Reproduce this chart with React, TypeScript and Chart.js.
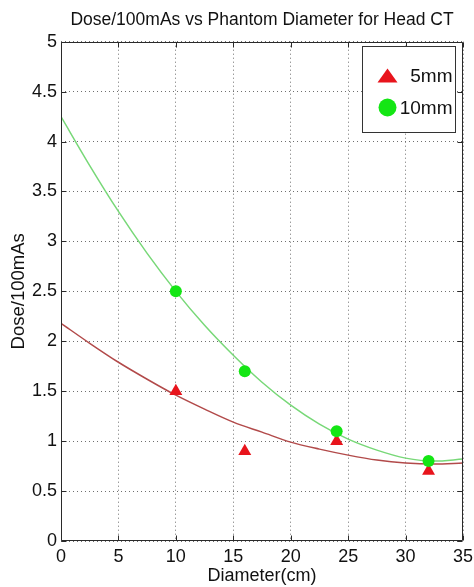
import React, { useEffect, useRef } from "react";
import { Chart, registerables } from "chart.js";

Chart.register(...registerables);

const chartTitle = "Dose/100mAs vs Phantom Diameter for Head CT";
const xAxisTitle = "Diameter(cm)";
const yAxisTitle = "Dose/100mAs";
const legendLabels = ["5mm", "10mm"];

// measured points
const diameters = [10, 16, 24, 32];
const dose5mm = [1.5, 0.9, 1.0, 0.7];
const dose10mm = [2.5, 1.7, 1.1, 0.8];

// fitted curves
const fitX = [0, 2.5, 5, 7.5, 10, 12.5, 15, 17.5, 20, 22.5, 25, 27.5, 30, 32.5, 35];
const fit5mm = [2.18, 1.98, 1.79, 1.62, 1.46, 1.32, 1.19, 1.09, 0.99, 0.92, 0.86, 0.81, 0.78, 0.77, 0.78];
const fit10mm = [4.25, 3.76, 3.3, 2.88, 2.5, 2.16, 1.86, 1.59, 1.36, 1.17, 1.02, 0.91, 0.83, 0.8, 0.82];

const xTicks = [0, 5, 10, 15, 20, 25, 30, 35];
const yTicks = [0, 0.5, 1, 1.5, 2, 2.5, 3, 3.5, 4, 4.5, 5];
const xTickLabels = ["0", "5", "10", "15", "20", "25", "30", "35"];
const yTickLabels = ["0", "0.5", "1", "1.5", "2", "2.5", "3", "3.5", "4", "4.5", "5"];

const RED_MARK = "#e8141c";
const GREEN_MARK = "#14e614";
const RED_LINE = "#b24a4a";
const GREEN_LINE = "#78d878";
const FAMILY = "'Liberation Sans', Arial, Helvetica, sans-serif";

export default function App() {
  const ref = useRef<HTMLCanvasElement | null>(null);

  useEffect(() => {
    if (!ref.current) return;

    const framePlugin = {
      id: "frameLegend",
      afterDraw(chart: any) {
        const ctx = chart.ctx as CanvasRenderingContext2D;
        const { left, right, top, bottom } = chart.chartArea;
        const xs = chart.scales.x;
        const ys = chart.scales.y;
        ctx.save();
        ctx.strokeStyle = "#2a2a2a";
        ctx.lineWidth = 1;
        const L = Math.round(left) + 0.5;
        const R = Math.round(right) - 0.5;
        const T = Math.round(top) + 0.5;
        const B = Math.round(bottom) - 0.5;
        ctx.beginPath();
        ctx.rect(L, T, R - L, B - T);
        ctx.stroke();
        // inward tick marks
        ctx.beginPath();
        xTicks.forEach((v) => {
          const px = Math.round(xs.getPixelForValue(v)) + 0.5;
          ctx.moveTo(px, B);
          ctx.lineTo(px, B - 5);
          ctx.moveTo(px, T);
          ctx.lineTo(px, T + 5);
        });
        yTicks.forEach((v) => {
          const py = Math.round(ys.getPixelForValue(v)) + 0.5;
          ctx.moveTo(L, py);
          ctx.lineTo(L + 5, py);
          ctx.moveTo(R, py);
          ctx.lineTo(R - 5, py);
        });
        ctx.stroke();

        // legend box
        const bw = 93;
        const bh = 86;
        const bx = Math.round(right - 8 - bw) + 0.5;
        const by = Math.round(top + 4) + 0.5;
        ctx.fillStyle = "#fff";
        ctx.fillRect(bx, by, bw, bh);
        ctx.strokeStyle = "#333";
        ctx.strokeRect(bx, by, bw, bh);
        // triangle
        const cx = bx + 25;
        const ty = by + 29;
        ctx.fillStyle = RED_MARK;
        ctx.beginPath();
        ctx.moveTo(cx, ty - 7);
        ctx.lineTo(cx + 10, ty + 7);
        ctx.lineTo(cx - 10, ty + 7);
        ctx.closePath();
        ctx.fill();
        // circle
        const cy = by + 61;
        ctx.fillStyle = GREEN_MARK;
        ctx.beginPath();
        ctx.arc(cx, cy, 9, 0, Math.PI * 2);
        ctx.fill();
        // labels
        ctx.fillStyle = "#111";
        ctx.font = `19px ${FAMILY}`;
        ctx.textAlign = "right";
        ctx.textBaseline = "middle";
        ctx.fillText(legendLabels[0], bx + bw - 3, ty + 1);
        ctx.fillText(legendLabels[1], bx + bw - 3, cy + 1);
        ctx.restore();
      },
    };

    const chart = new Chart(ref.current, {
      type: "line",
      data: {
        datasets: [
          {
            label: legendLabels[1] + " points",
            data: diameters.map((x, i) => ({ x, y: dose10mm[i] })),
            showLine: false,
            pointStyle: "circle",
            pointRadius: 6,
            pointBackgroundColor: GREEN_MARK,
            pointBorderColor: GREEN_MARK,
            pointBorderWidth: 0,
            order: 0,
          },
          {
            label: legendLabels[0] + " points",
            data: diameters.map((x, i) => ({ x, y: dose5mm[i] })),
            showLine: false,
            pointStyle: "triangle",
            pointRadius: 7.5,
            pointBackgroundColor: RED_MARK,
            pointBorderColor: RED_MARK,
            pointBorderWidth: 0,
            order: 1,
          },
          {
            label: legendLabels[1] + " fit",
            data: fitX.map((x, i) => ({ x, y: fit10mm[i] })),
            borderColor: GREEN_LINE,
            borderWidth: 1.5,
            pointRadius: 0,
            cubicInterpolationMode: "monotone",
            fill: false,
            order: 2,
          },
          {
            label: legendLabels[0] + " fit",
            data: fitX.map((x, i) => ({ x, y: fit5mm[i] })),
            borderColor: RED_LINE,
            borderWidth: 1.5,
            pointRadius: 0,
            cubicInterpolationMode: "monotone",
            fill: false,
            order: 3,
          },
        ],
      },
      options: {
        responsive: false,
        animation: false,
        events: [],
        layout: { padding: { left: 0, right: 11, top: 0, bottom: 0 } },
        plugins: {
          legend: { display: false },
          tooltip: { enabled: false },
          title: {
            display: true,
            text: chartTitle,
            fullSize: false,
            color: "#111",
            font: { family: FAMILY, size: 17.5, weight: "normal", lineHeight: 1.2 },
            padding: { top: 10, bottom: 10.7 },
          },
        },
        scales: {
          x: {
            type: "linear",
            min: 0,
            max: 35,
            afterBuildTicks: (s: any) => {
              s.ticks = xTicks.map((v) => ({ value: v }));
            },
            afterFit: (s: any) => {
              s.height = 46;
              s.paddingLeft = 0;
              s.paddingRight = 0;
            },
            ticks: {
              autoSkip: false,
              maxRotation: 0,
              padding: 5,
              color: "#111",
              font: { family: FAMILY, size: 18, lineHeight: 1.2 },
              callback: (v: any) => xTickLabels[xTicks.indexOf(Number(v))] ?? String(v),
            },
            grid: { color: "#6f6f6f", lineWidth: 1, drawTicks: false },
            border: { display: false, dash: [1, 3] },
            title: {
              display: true,
              text: xAxisTitle,
              color: "#111",
              font: { family: FAMILY, size: 18, lineHeight: 1.2 },
              padding: { top: 0, bottom: 0 },
            },
          },
          y: {
            type: "linear",
            min: 0,
            max: 5,
            afterBuildTicks: (s: any) => {
              s.ticks = yTicks.map((v) => ({ value: v }));
            },
            afterFit: (s: any) => {
              s.width = 61;
              s.paddingTop = 0;
              s.paddingBottom = 0;
            },
            ticks: {
              autoSkip: false,
              padding: 4,
              color: "#111",
              font: { family: FAMILY, size: 18, lineHeight: 1.2 },
              callback: (v: any) => yTickLabels[yTicks.indexOf(Number(v))] ?? String(v),
            },
            grid: { color: "#6f6f6f", lineWidth: 1, drawTicks: false },
            border: { display: false, dash: [1, 3] },
            title: {
              display: true,
              text: yAxisTitle,
              color: "#111",
              font: { family: FAMILY, size: 18.5, lineHeight: 1.2 },
              padding: { top: 7.5, bottom: 0 },
            },
          },
        },
      },
      plugins: [framePlugin],
    } as any);
    return () => chart.destroy();
  }, []);

  return (
    <div style={{ position: "fixed", left: 0, top: 0, width: 474, height: 587, background: "#fff" }}>
      <canvas ref={ref} width={474} height={587} style={{ display: "block", width: 474, height: 587 }} />
    </div>
  );
}
